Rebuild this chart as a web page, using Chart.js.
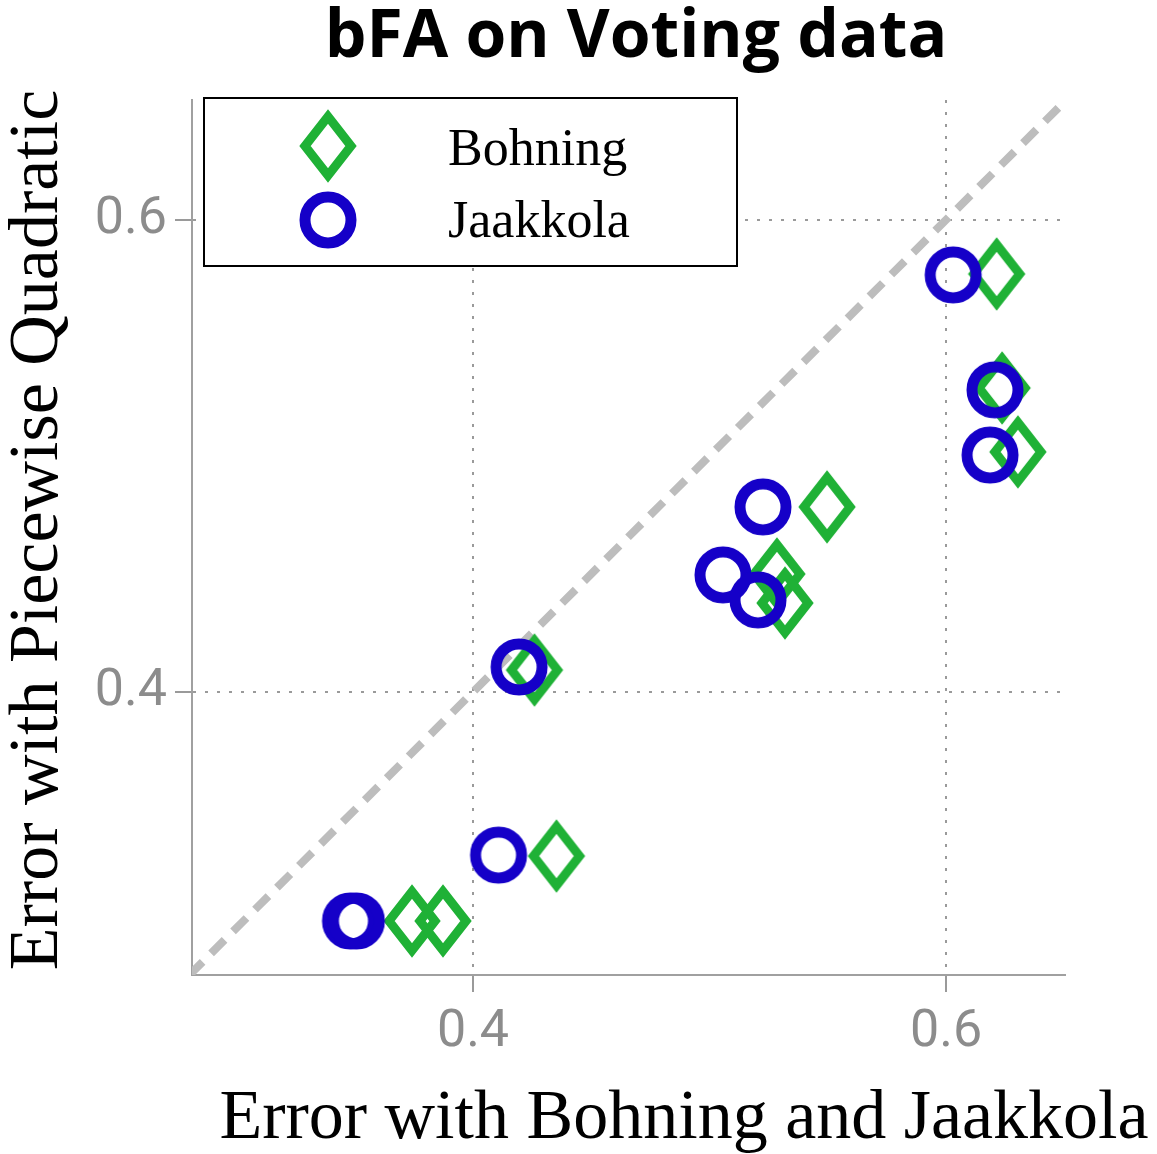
<!DOCTYPE html>
<html>
<head>
<meta charset="utf-8">
<title>bFA on Voting data</title>
<script src="https://cdn.jsdelivr.net/npm/chart.js@4.4.1/dist/chart.umd.min.js"></script>
<style>
	body{margin:0;background:#fff;}
	canvas{display:block;}
</style>
</head>
<body>
<canvas id="grafico" width="1157" height="1154"></canvas>
<script>
// values
var bohningX = [0.3742, 0.3873, 0.4353, 0.4260, 0.5285, 0.5319, 0.5497, 0.6214, 0.6237, 0.6304];
var bohningY = [0.3030, 0.3030, 0.3305, 0.4093, 0.4500, 0.4377, 0.4784, 0.5771, 0.5288, 0.5017];
var jaakkolaX = [0.3482, 0.3507, 0.4108, 0.4195, 0.5057, 0.5205, 0.5226, 0.6030, 0.6207, 0.6186];
var jaakkolaY = [0.3030, 0.3030, 0.3309, 0.4106, 0.4496, 0.4390, 0.4784, 0.5767, 0.5280, 0.5004];
var diagonal = [0.28, 0.66];
var ticksX = [0.4, 0.6];
var ticksY = [0.4, 0.6];
var rangeX = [0.2812, 0.6503];
var rangeY = [0.2801, 0.6508];
var titleText = 'bFA on Voting data';
var xTitle = 'Error with Bohning and Jaakkola';
var yTitle = 'Error with Piecewise Quadratic';
var names = ['Bohning', 'Jaakkola'];

var green = '#1fb136';
var blue = '#1500c8';

function pairs(xs, ys){
	var out = [];
	for (var i = 0; i < xs.length; i++) out.push({x: xs[i], y: ys[i]});
	return out;
}

// tall hollow diamond, chart.js only has the square one
function makeDiamond(color){
	var c = document.createElement('canvas');
	c.width = 64; c.height = 84;
	var g = c.getContext('2d');
	g.strokeStyle = color;
	g.lineWidth = 9;
	g.lineJoin = 'miter';
	g.miterLimit = 10;
	g.beginPath();
	g.moveTo(32, 42 - 29.5);
	g.lineTo(32 + 23, 42);
	g.lineTo(32, 42 + 29.5);
	g.lineTo(32 - 23, 42);
	g.closePath();
	g.stroke();
	return c;
}
function makeRing(color){
	var c = document.createElement('canvas');
	c.width = 64; c.height = 64;
	var g = c.getContext('2d');
	g.strokeStyle = color;
	g.lineWidth = 11;
	g.beginPath();
	g.arc(32, 32, 23, 0, Math.PI * 2);
	g.stroke();
	return c;
}
var diamond = makeDiamond(green);
var ring = makeRing(blue);

var extras = {
	id: 'extras',
	afterDraw: function(chart){
		var ctx = chart.ctx;
		ctx.save();
		ctx.fillStyle = '#000';
		ctx.textAlign = 'center';
		ctx.textBaseline = 'alphabetic';
		ctx.font = 'bold 66px "Open Sans"';
		ctx.fillText(titleText, 636, 57);
		ctx.font = '70px "Liberation Serif"';
		ctx.fillText(xTitle, 684, 1138);
		ctx.save();
		ctx.translate(57, 530);
		ctx.rotate(-Math.PI / 2);
		ctx.fillText(yTitle, 0, 0);
		ctx.restore();

		// legend box
		ctx.fillStyle = '#fff';
		ctx.fillRect(204, 98, 533, 168);
		ctx.strokeStyle = '#000';
		ctx.lineWidth = 2;
		ctx.strokeRect(204, 98, 533, 168);
		ctx.drawImage(diamond, 328 - 32, 146 - 42);
		ctx.drawImage(ring, 328 - 32, 220 - 32);
		ctx.fillStyle = '#000';
		ctx.textAlign = 'left';
		ctx.font = '52px "Liberation Serif"';
		ctx.fillText(names[0], 448, 165);
		ctx.fillText(names[1], 448, 237);
		ctx.restore();
	}
};

function axis(range, ticks, vertical){
	return {
		type: 'linear',
		min: range[0],
		max: range[1],
		afterBuildTicks: function(s){
			s.ticks = ticks.map(function(v){ return {value: v}; });
		},
		afterFit: function(s){
			if (vertical) s.width = 192; else s.height = 179;
		},
		grid: {
			color: '#9a9a9a',
			lineWidth: 2,
			tickLength: 17,
			tickBorderDash: []
		},
		border: {
			display: true,
			color: '#a0a0a0',
			width: 2,
			dash: [3, 9]
		},
		ticks: {
			color: '#8c8c8c',
			font: {family: 'Roboto', size: 52},
			padding: vertical ? 8 : 10,
			autoSkip: false,
			maxRotation: 0,
			callback: function(v){ return Number(v).toFixed(1); }
		}
	};
}

new Chart(document.getElementById('grafico'), {
	type: 'scatter',
	data: {
		datasets: [{
			label: names[0],
			data: pairs(bohningX, bohningY),
			pointStyle: diamond,
			pointRadius: 30,
			pointHoverRadius: 30,
			order: 1
		}, {
			label: names[1],
			data: pairs(jaakkolaX, jaakkolaY),
			pointStyle: ring,
			pointRadius: 30,
			pointHoverRadius: 30,
			order: 0
		}, {
			label: 'x = y',
			data: pairs(diagonal, diagonal),
			showLine: true,
			borderColor: '#bdbdbd',
			borderWidth: 8,
			borderDash: [19, 12],
			pointRadius: 0,
			clip: 0,
			order: 2
		}]
	},
	options: {
		responsive: false,
		animation: false,
		devicePixelRatio: 1,
		layout: {padding: {left: 0, right: 92, top: 100, bottom: 0}},
		plugins: {
			legend: {display: false},
			title: {display: false},
			tooltip: {enabled: false}
		},
		scales: {
			x: axis(rangeX, ticksX, false),
			y: axis(rangeY, ticksY, true)
		}
	},
	plugins: [extras]
});
</script>
</body>
</html>
